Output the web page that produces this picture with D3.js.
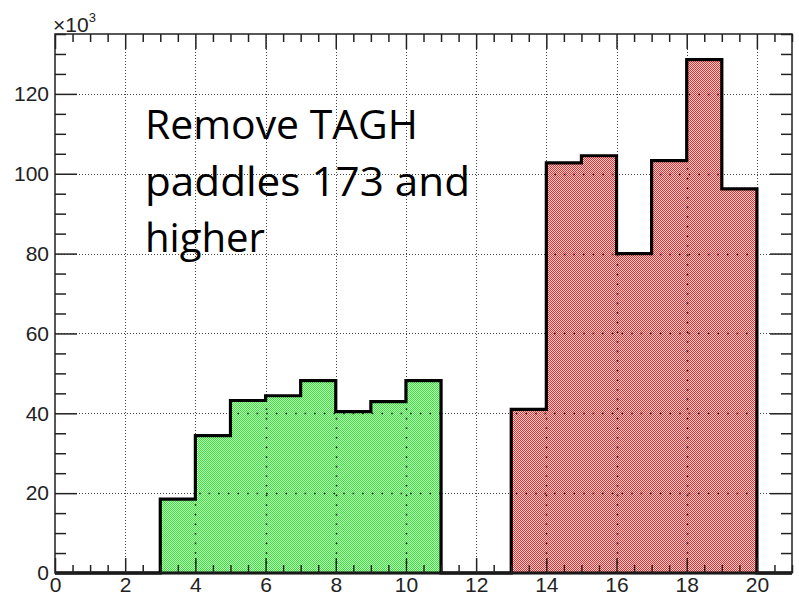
<!DOCTYPE html>
<html>
<head>
<meta charset="utf-8">
<script src="https://cdn.jsdelivr.net/npm/d3@7"></script>
<style>
  body { margin: 0; background: #fff; }
  svg { display: block; }
</style>
</head>
<body>
<div id="chart"></div>
<script>
// bin low edges (width 1) and counts in thousands
let binEdges = [0,1,2,3,4,5,6,7,8,9,10,11,12,13,14,15,16,17,18,19,20];
let greenCounts = [0,0,0,18.5,34.4,43.2,44.4,48.2,40.4,42.9,48.2,0,0,0,0,0,0,0,0,0,0];
let redCounts   = [0,0,0,0,0,0,0,0,0,0,0,0,0,41.0,102.7,104.5,80.0,103.3,128.6,96.2,0];
let xMajor = [0,2,4,6,8,10,12,14,16,18,20];
let yMajor = [0,20,40,60,80,100,120];
let noteLines = ["Remove TAGH", "paddles 173 and", "higher"];

const W = 799, H = 597;
const frame = {left: 55, right: 792, top: 34, bottom: 573};

const x = d3.scaleLinear().domain([0, 21]).range([frame.left, frame.right]);
const y = d3.scaleLinear().domain([0, 135]).range([frame.bottom, frame.top]);

const svg = d3.select('#chart').append('svg').attr('width', W).attr('height', H);
const defs = svg.append('defs');

// ROOT-like 3001 fill: pixel checker
function checker(id, light, dark){
  let p = defs.append('pattern').attr('id', id).attr('patternUnits', 'userSpaceOnUse')
    .attr('width', 2).attr('height', 2);
  p.append('rect').attr('width', 2).attr('height', 2).attr('fill', light);
  p.append('rect').attr('x', 0).attr('y', 0).attr('width', 1).attr('height', 1).attr('fill', dark);
  p.append('rect').attr('x', 1).attr('y', 1).attr('width', 1).attr('height', 1).attr('fill', dark);
}
checker('fillGreen', '#d8ffd8', '#22f022');
checker('fillRed', '#ffd8d8', '#f52a2a');

function histData(counts){
  let pts = [];
  binEdges.forEach((e, i) => {
    pts.push([e, counts[i]]);
    pts.push([e + 1, counts[i]]);
  });
  return pts;
}
const area = d3.area().x(d => x(d[0])).y0(y(0)).y1(d => y(d[1]));
const line = d3.line().x(d => x(d[0])).y(d => y(d[1]));

// grid (under the histograms)
const grid = svg.append('g').attr('stroke', '#444').attr('stroke-width', 1).attr('stroke-dasharray', '1,2');
grid.selectAll('.gx').data(xMajor.filter(v => v > 0)).join('line')
  .attr('x1', d => Math.round(x(d)) + 0.5).attr('x2', d => Math.round(x(d)) + 0.5)
  .attr('y1', frame.top).attr('y2', frame.bottom);
grid.selectAll('.gy').data(yMajor.filter(v => v > 0)).join('line')
  .attr('x1', frame.left).attr('x2', frame.right)
  .attr('y1', d => Math.round(y(d)) + 0.5).attr('y2', d => Math.round(y(d)) + 0.5);

// histogram fills
[['g', greenCounts, 'url(#fillGreen)'], ['r', redCounts, 'url(#fillRed)']].forEach(h => {
  svg.append('path').datum(histData(h[1])).attr('d', area).attr('fill', h[2]);
  let cp = defs.append('clipPath').attr('id', 'clip' + h[0]);
  cp.append('path').datum(histData(h[1])).attr('d', area);
});

// sparse grid dots seen through the fill
['g', 'r'].forEach(id => {
  const g2 = svg.append('g').attr('clip-path', 'url(#clip' + id + ')')
    .attr('stroke', '#111').attr('stroke-width', 1.6).attr('stroke-dasharray', '1.6,8');
  g2.selectAll('.a').data(xMajor.filter(v => v > 0)).join('line')
    .attr('x1', d => Math.round(x(d)) + 0.5).attr('x2', d => Math.round(x(d)) + 0.5)
    .attr('y1', frame.bottom).attr('y2', frame.top);
  g2.selectAll('.b').data(yMajor.filter(v => v > 0)).join('line')
    .attr('x1', frame.left).attr('x2', frame.right)
    .attr('y1', d => Math.round(y(d)) + 0.5).attr('y2', d => Math.round(y(d)) + 0.5);
});

// histogram outlines
[greenCounts, redCounts].forEach(c => {
  svg.append('path').datum(histData(c)).attr('d', line)
    .attr('fill', 'none').attr('stroke', '#000').attr('stroke-width', 3.2)
    .attr('stroke-linejoin', 'miter');
});

// frame
svg.append('rect').attr('x', frame.left).attr('y', frame.top)
  .attr('width', frame.right - frame.left).attr('height', frame.bottom - frame.top)
  .attr('fill', 'none').attr('stroke', '#222').attr('stroke-width', 1.5);

// axes: ticks pointing inward on all sides
const xMinor = d3.range(0, 21.01, 0.5).filter(v => v % 2 !== 0);
const yMinor = d3.range(0, 135.01, 5).filter(v => v % 20 !== 0);
function styleAxis(g){
  g.select('.domain').remove();
  g.selectAll('.tick line').attr('stroke', '#222').attr('stroke-width', 1.5);
  g.selectAll('.tick text').attr('fill', '#222')
    .style('font-family', '"Liberation Sans", Arial, sans-serif').style('font-size', '21px');
}
svg.append('g').attr('transform', `translate(0,${frame.bottom})`)
  .call(d3.axisBottom(x).tickValues(xMajor).tickSize(-15).tickPadding(4).tickFormat(d3.format('d')))
  .call(styleAxis);
svg.append('g').attr('transform', `translate(0,${frame.bottom})`)
  .call(d3.axisBottom(x).tickValues(xMinor).tickSize(-8).tickFormat('')).call(styleAxis);
svg.append('g').attr('transform', `translate(0,${frame.top})`)
  .call(d3.axisTop(x).tickValues(xMajor).tickSize(-15).tickFormat('')).call(styleAxis);
svg.append('g').attr('transform', `translate(0,${frame.top})`)
  .call(d3.axisTop(x).tickValues(xMinor).tickSize(-8).tickFormat('')).call(styleAxis);
svg.append('g').attr('transform', `translate(${frame.left},0)`)
  .call(d3.axisLeft(y).tickValues(yMajor).tickSize(-22).tickPadding(6).tickFormat(d3.format('d')))
  .call(styleAxis);
svg.append('g').attr('transform', `translate(${frame.left},0)`)
  .call(d3.axisLeft(y).tickValues(yMinor).tickSize(-11).tickFormat('')).call(styleAxis);
svg.append('g').attr('transform', `translate(${frame.right},0)`)
  .call(d3.axisRight(y).tickValues(yMajor).tickSize(-22).tickFormat('')).call(styleAxis);
svg.append('g').attr('transform', `translate(${frame.right},0)`)
  .call(d3.axisRight(y).tickValues(yMinor).tickSize(-11).tickFormat('')).call(styleAxis);

// x10^3 exponent label
const exp = svg.append('text').attr('x', 53).attr('y', 32).attr('fill', '#222')
  .style('font-family', '"Liberation Sans", Arial, sans-serif').style('font-size', '21px');
exp.append('tspan').text('\u00d710');
exp.append('tspan').attr('dy', -10).style('font-size', '13px').text('3');

// annotation
const noteWidths = [273, 325, 120];
svg.append('g').selectAll('text').data(noteLines).join('text')
  .attr('x', 145).attr('y', (d, i) => 139 + i * 56.5)
  .attr('textLength', (d, i) => noteWidths[i]).attr('lengthAdjust', 'spacingAndGlyphs')
  .attr('fill', '#000')
  .style('font-family', '"Open Sans", "Noto Sans", sans-serif').style('font-size', '40px')
  .text(d => d);
</script>
</body>
</html>
